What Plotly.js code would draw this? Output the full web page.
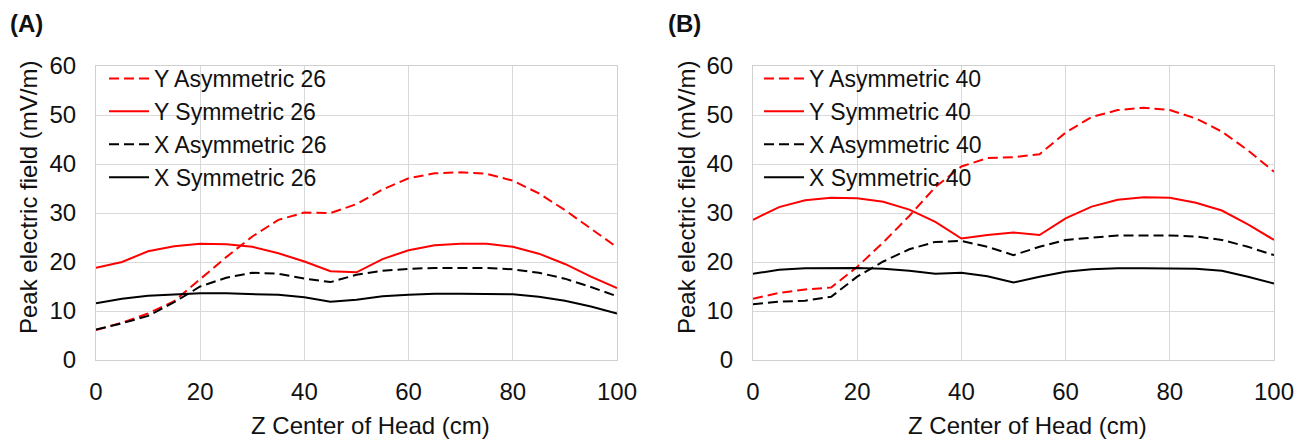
<!DOCTYPE html>
<html>
<head>
<meta charset="utf-8">
<script src="https://cdn.plot.ly/plotly-3.0.1.min.js"></script>
<style>html,body{margin:0;padding:0;background:#fff;}#chart{width:1306px;height:441px;}</style>
</head>
<body>
<div id="chart"></div>
<script>
// Z center of head (cm)
const z = [0,5,10,15,20,25,30,35,40,45,50,55,60,65,70,75,80,85,90,95,100];

// Panel A (26)
const yAsym26 = [6.1,7.6,9.5,12.0,16.5,21.0,25.2,28.6,30.1,30.0,31.8,34.8,37.1,38.1,38.3,38.0,36.6,34.0,30.6,26.8,23.0];
const ySym26  = [18.8,20.0,22.2,23.2,23.7,23.6,23.1,21.8,20.1,18.1,17.9,20.6,22.4,23.4,23.7,23.7,23.1,21.7,19.6,17.0,14.7];
const xAsym26 = [6.2,7.5,9.0,11.8,15.0,16.8,17.8,17.6,16.6,15.9,17.4,18.2,18.6,18.8,18.8,18.8,18.5,17.8,16.6,14.9,13.0];
const xSym26  = [11.6,12.5,13.1,13.4,13.6,13.6,13.5,13.3,12.8,11.9,12.3,13.0,13.3,13.5,13.5,13.5,13.4,12.9,12.1,10.9,9.5];

// Panel B (40)
const yAsym40 = [12.5,13.7,14.4,14.8,19.0,24.0,29.4,35.3,39.5,41.2,41.4,42.0,46.4,49.6,51.0,51.5,51.0,49.3,46.6,42.8,38.4];
const ySym40  = [28.6,31.2,32.6,33.1,33.0,32.3,30.7,28.2,24.8,25.5,26.0,25.5,28.9,31.3,32.7,33.2,33.1,32.1,30.5,27.7,24.5];
const xAsym40 = [11.4,11.9,12.1,12.9,17.0,20.1,22.6,24.1,24.3,23.1,21.4,23.1,24.5,25.0,25.4,25.4,25.4,25.2,24.5,23.1,21.4];
const xSym40  = [17.6,18.4,18.7,18.8,18.8,18.6,18.2,17.6,17.8,17.1,15.8,17.0,18.0,18.5,18.7,18.7,18.7,18.6,18.2,17.0,15.6];

const namesA = ['Y Asymmetric 26','Y Symmetric 26','X Asymmetric 26','X Symmetric 26'];
const namesB = ['Y Asymmetric 40','Y Symmetric 40','X Asymmetric 40','X Symmetric 40'];

const xTitle = 'Z Center of Head (cm)';
const yTitle = 'Peak electric field (mV/m)';
const panelLabels = ['(A)', '(B)'];
const xTickVals = [0,20,40,60,80,100];
const yTickVals = [0,10,20,30,40,50,60];

const RED = '#ff0000', BLACK = '#000000';
const DASH = '10px,5px';
const styles = [
  {color: RED, dash: DASH},
  {color: RED, dash: 'solid'},
  {color: BLACK, dash: DASH},
  {color: BLACK, dash: 'solid'}
];

function mk(y, name, st, xa, ya, lg) {
  return {x: z, y: y, name: name, type: 'scatter', mode: 'lines',
    xaxis: xa, yaxis: ya, legend: lg,
    line: {color: st.color, dash: st.dash, width: 2}};
}

const seriesA = [yAsym26, ySym26, xAsym26, xSym26];
const seriesB = [yAsym40, ySym40, xAsym40, xSym40];
const data = [];
seriesA.forEach((s,i) => data.push(mk(s, namesA[i], styles[i], 'x', 'y', 'legend')));
seriesB.forEach((s,i) => data.push(mk(s, namesB[i], styles[i], 'x2', 'y2', 'legend2')));

const W = 1306, H = 441;
const FAM = '"Liberation Sans", Arial, sans-serif';
const font = {family: FAM, size: 24, color: '#111'};
const lfont = {family: FAM, size: 23, color: '#111'};

function xax(domain, anchor) {
  return {domain: domain, anchor: anchor, range: [0,100], tickvals: xTickVals,
    showgrid: true, gridcolor: '#d9d9d9', gridwidth: 1, zeroline: false,
    showline: true, linecolor: '#d0d0d0', linewidth: 1, mirror: true,
    ticks: '', ticklabelstandoff: 10, tickfont: font, fixedrange: true};
}
function yax(domain, anchor) {
  return {domain: domain, anchor: anchor, range: [0,60], tickvals: yTickVals,
    showgrid: true, gridcolor: '#d9d9d9', gridwidth: 1, zeroline: false,
    showline: true, linecolor: '#d0d0d0', linewidth: 1, mirror: true,
    ticks: '', ticklabelstandoff: 14, tickfont: font, fixedrange: true};
}

const yd = [(H-360)/H, (H-66)/H];
const layout = {
  width: W, height: H,
  margin: {l: 0, r: 0, t: 0, b: 0},
  paper_bgcolor: '#fff', plot_bgcolor: '#fff',
  font: font,
  showlegend: true,
  xaxis: xax([96/W, 617/W], 'y'),
  yaxis: yax(yd, 'x'),
  xaxis2: xax([753/W, 1274/W], 'y2'),
  yaxis2: yax(yd, 'x2'),
  legend: {x: 104/W, y: (H-57)/H, xanchor: 'left', yanchor: 'top', bgcolor: 'rgba(0,0,0,0)',
    font: lfont, tracegroupgap: 0, itemwidth: 40},
  legend2: {x: 759/W, y: (H-57)/H, xanchor: 'left', yanchor: 'top', bgcolor: 'rgba(0,0,0,0)',
    font: lfont, tracegroupgap: 0, itemwidth: 40},
  annotations: [
    {text: '<b>' + panelLabels[0] + '</b>', xref: 'paper', yref: 'paper', x: 8/W, y: (H-23)/H, xanchor: 'left', yanchor: 'middle', showarrow: false,
      font: {family: FAM, size: 24, color: '#111'}},
    {text: '<b>' + panelLabels[1] + '</b>', xref: 'paper', yref: 'paper', x: 666/W, y: (H-23)/H, xanchor: 'left', yanchor: 'middle', showarrow: false,
      font: {family: FAM, size: 24, color: '#111'}},
    {text: xTitle, xref: 'paper', yref: 'paper', x: 370/W, y: (H-425)/H, xanchor: 'center', yanchor: 'middle', showarrow: false, font: font},
    {text: xTitle, xref: 'paper', yref: 'paper', x: 1027/W, y: (H-425)/H, xanchor: 'center', yanchor: 'middle', showarrow: false, font: font},
    {text: yTitle, xref: 'paper', yref: 'paper', x: 28/W, y: (H-198)/H, xanchor: 'center', yanchor: 'middle', textangle: -90, showarrow: false, font: font},
    {text: yTitle, xref: 'paper', yref: 'paper', x: 686/W, y: (H-198)/H, xanchor: 'center', yanchor: 'middle', textangle: -90, showarrow: false, font: font}
  ]
};

Plotly.newPlot('chart', data, layout, {displayModeBar: false, staticPlot: true});
</script>
</body>
</html>
